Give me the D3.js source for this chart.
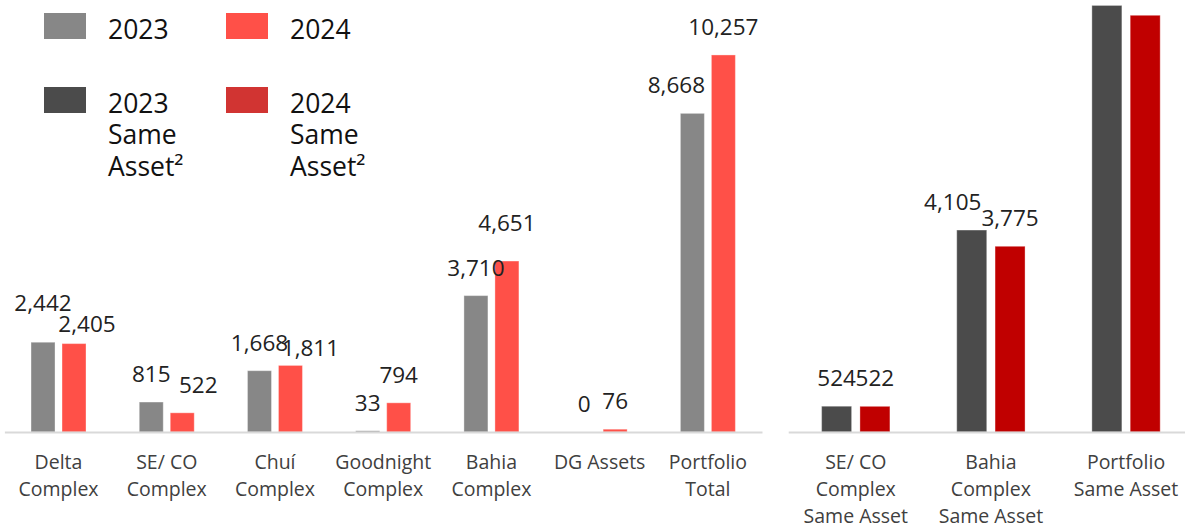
<!DOCTYPE html>
<html>
<head>
<meta charset="utf-8">
<script src="https://cdn.jsdelivr.net/npm/d3@7"></script>
<style>
  html, body { margin: 0; padding: 0; background: #ffffff; }
  svg { display: block; }
  text { font-family: "Open Sans", "DejaVu Sans", sans-serif; }
</style>
</head>
<body>
<svg id="chart" width="1185" height="526"></svg>
<script>
// ---------- DATA ----------
const seriesLeft = ["2023", "2024"];
const categoriesLeft = ["Delta\nComplex", "SE/ CO\nComplex", "Chuí\nComplex", "Goodnight\nComplex", "Bahia\nComplex", "DG Assets", "Portfolio\nTotal"];
const values2023 = [2442, 815, 1668, 33, 3710, 0, 8668];
const values2024 = [2405, 522, 1811, 794, 4651, 76, 10257];

const seriesRight = ["2023 SA", "2024 SA"];
const categoriesRight = ["SE/ CO\nComplex\nSame Asset", "Bahia\nComplex\nSame Asset", "Portfolio\nSame Asset"];
const sameAsset2023 = [524, 4105, 8670];
const sameAsset2024 = [522, 3775, 8470];

const legendLabels = ["2023", "2024", "2023\nSame\nAsset²", "2024\nSame\nAsset²"];

// ---------- STYLE ----------
const colorsLeft = { "2023": "#878787", "2024": "#FF5048" };
const colorsRight = { "2023 SA": "#4B4B4B", "2024 SA": "#C00000" };
const legendColors = ["#878787", "#FF5048", "#4B4B4B", "#D13432"];
const fmt = d3.format(",");

// label nudges (layout only) keyed by panel|categoryIndex|series
const nudges = {
  "L|0|2023": [0, -11],
  "L|0|2024": [13, 8],
  "L|1|2024": [16, 0],
  "L|2|2024": [20, 11],
  "L|4|2024": [0, -10],
  "L|6|2023": [-16, 0],
  "R|1|2023 SA": [-19, 0]
};

const svg = d3.select("#chart");
const baseY = 432;

function panel(key, cats, series, valArrays, colors, xRange, yScale, pi, po) {
  const x0 = d3.scaleBand().domain(cats).range(xRange).paddingInner(0).paddingOuter(0);
  const x1 = d3.scaleBand().domain(series).range([0, x0.bandwidth()]).paddingInner(pi).paddingOuter(po);

  const rows = cats.map((c, i) => ({ c, i, vals: series.map((s, j) => ({ s, v: valArrays[j][i], i })) }));

  const g = svg.append("g");
  const groups = g.selectAll("g.grp").data(rows).join("g")
    .attr("class", "grp")
    .attr("transform", d => `translate(${x0(d.c)},0)`);

  groups.selectAll("rect").data(d => d.vals).join("rect")
    .attr("x", d => x1(d.s))
    .attr("width", x1.bandwidth())
    .attr("y", d => yScale(d.v))
    .attr("height", d => yScale(0) - yScale(d.v))
    .attr("fill", d => colors[d.s])
    .attr("stroke", "rgba(255,255,255,0.35)")
    .attr("stroke-width", 1);

  groups.selectAll("text.val").data(d => d.vals).join("text")
    .attr("class", "val")
    .attr("text-anchor", "middle")
    .attr("x", d => x1(d.s) + x1.bandwidth() / 2 + ((nudges[`${key}|${d.i}|${d.s}`] || [0, 0])[0]))
    .attr("y", d => yScale(d.v) - 20 + ((nudges[`${key}|${d.i}|${d.s}`] || [0, 0])[1]))
    .attr("font-size", 22.5)
    .attr("fill", "#222222")
    .text(d => fmt(d.v));

  // axis
  const axis = d3.axisBottom(x0).tickSize(0).tickSizeOuter(0).tickFormat("");
  const ag = svg.append("g").attr("transform", `translate(0,${baseY})`).call(axis);
  ag.select(".domain").attr("stroke", "#d9d9d9").attr("stroke-width", 2);

  // category labels
  const lab = svg.append("g").selectAll("text").data(cats).join("text")
    .attr("text-anchor", "middle")
    .attr("font-size", 19.5)
    .attr("fill", "#404040")
    .attr("x", d => x0(d) + x0.bandwidth() / 2)
    .attr("y", 469);
  lab.selectAll("tspan").data(d => d.split("\n")).join("tspan")
    .attr("x", function () { return d3.select(this.parentNode).attr("x"); })
    .attr("dy", (d, i) => i === 0 ? 0 : 27)
    .text(d => d);
}

const yL = d3.scaleLinear().domain([0, 10000]).range([baseY, baseY - 10000 * 0.03676]);
const yR = d3.scaleLinear().domain([0, 4000]).range([baseY, baseY - 4000 * 0.0492]);

panel("L", categoriesLeft, seriesLeft, [values2023, values2024], colorsLeft, [4.4, 762], yL, 0.226, 0.859);
panel("R", categoriesRight, seriesRight, [sameAsset2023, sameAsset2024], colorsRight, [788.2, 1193.6], yR, 0.217, 0.872);

// ---------- LEGEND ----------
const legPos = [[44, 13], [226, 13], [44, 87], [226, 87]];
const leg = svg.append("g").selectAll("g").data(legendLabels).join("g")
  .attr("transform", (d, i) => `translate(${legPos[i][0]},${legPos[i][1]})`);
leg.append("rect").attr("width", 42).attr("height", 26).attr("fill", (d, i) => legendColors[i]);
const lt = leg.append("text").attr("x", 64).attr("y", 25.5).attr("font-size", 26.5).attr("fill", "#111111");
lt.selectAll("tspan").data(d => d.split("\n")).join("tspan")
  .attr("x", 64)
  .attr("dy", (d, i) => i === 0 ? 0 : 31.6)
  .text(d => d);
</script>
</body>
</html>
